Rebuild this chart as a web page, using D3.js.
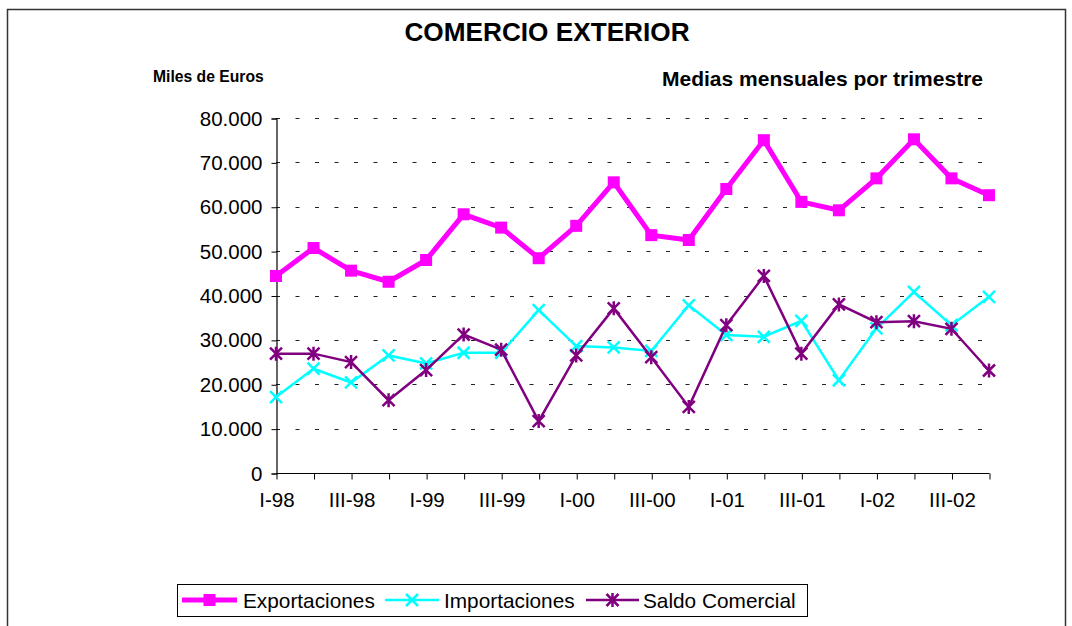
<!DOCTYPE html>
<html>
<head>
<meta charset="utf-8">
<script src="https://cdn.jsdelivr.net/npm/d3@7"></script>
<style>
  html, body { margin: 0; padding: 0; background: #fff; }
  svg { display: block; font-family: "Liberation Sans", Arial, sans-serif; }
</style>
</head>
<body>
<svg id="chart" width="1072" height="626"></svg>
<script>
const categories = ["I-98","II-98","III-98","IV-98","I-99","II-99","III-99","IV-99",
  "I-00","II-00","III-00","IV-00","I-01","II-01","III-01","IV-01",
  "I-02","II-02","III-02","IV-02"];
const exportaciones = [44400, 50700, 45600, 43100, 48000, 58300, 55300, 48400,
  55700, 65500, 53600, 52500, 64000, 75000, 61100, 59200,
  66400, 75200, 66400, 62600];
const importaciones = [17100, 23500, 20400, 26500, 24700, 27100, 27100, 36700,
  28600, 28300, 27500, 37800, 31100, 30700, 34300, 20900,
  32600, 40800, 33300, 39700];
const saldo = [26900, 26900, 25000, 16400, 23200, 31200, 27800, 11700,
  26500, 37100, 26100, 14900, 33300, 44400, 26900, 38000,
  34000, 34200, 32500, 23100];
const yTicks = [0, 10000, 20000, 30000, 40000, 50000, 60000, 70000, 80000];
const xLabels = ["I-98","III-98","I-99","III-99","I-00","III-00","I-01","III-01","I-02","III-02"];
const seriesNames = ["Exportaciones", "Importaciones", "Saldo Comercial"];

const svg = d3.select("#chart");
const locale = d3.formatLocale({decimal: ",", thousands: ".", grouping: [3], currency: ["", "€"]});
const fmt = locale.format(",.0f");

// outer frame
svg.append("rect").attr("x", 7.5).attr("y", 9.5).attr("width", 1058).attr("height", 700)
  .attr("fill", "none").attr("stroke", "#333").attr("stroke-width", 1.5);

const x = d3.scalePoint().domain(categories).range([276, 989]);
const y = d3.scaleLinear().domain([0, 80000]).range([473, 118]);

// gridlines
svg.append("g").selectAll("line").data(yTicks.filter(d => d > 0)).join("line")
  .attr("x1", 276).attr("x2", 989)
  .attr("y1", d => Math.round(y(d)) + 0.5).attr("y2", d => Math.round(y(d)) + 0.5)
  .attr("stroke", "#222").attr("stroke-width", 1.2).attr("stroke-dasharray", "4,15.5");

// y axis
const yAxis = d3.axisLeft(y).tickValues(yTicks).tickFormat(fmt).tickSize(5).tickPadding(9);
const gy = svg.append("g").attr("transform", "translate(276.5,0.5)").call(yAxis);
gy.select(".domain").attr("stroke", "#000").attr("stroke-width", 1.2);
gy.selectAll(".tick line").attr("stroke", "#000");
gy.selectAll(".tick text").attr("font-size", 20.5).attr("fill", "#000")
  .attr("font-family", "'Liberation Sans', Arial, sans-serif");

// x axis
const xAxis = d3.axisBottom(x).tickSize(6).tickPadding(13)
  .tickFormat(d => xLabels.includes(d) ? d : "");
const gx = svg.append("g").attr("transform", "translate(0.5,473.5)").call(xAxis);
gx.select(".domain").attr("stroke", "#000").attr("stroke-width", 1.2).attr("d", "M276,0H989");
gx.selectAll(".tick line").attr("stroke", "#000");
gx.selectAll(".tick text").attr("font-size", 20.5).attr("fill", "#000")
  .attr("font-family", "'Liberation Sans', Arial, sans-serif");

// series
const series = [
  {name: seriesNames[0], values: exportaciones, color: "#FF00FF", width: 5, marker: "square"},
  {name: seriesNames[1], values: importaciones, color: "#00FFFF", width: 2.5, marker: "x"},
  {name: seriesNames[2], values: saldo, color: "#800080", width: 2.5, marker: "star"}
];

function drawMarker(g, type, color, cx, cy) {
  if (type === "square") {
    g.append("rect").attr("x", cx - 6).attr("y", cy - 6).attr("width", 12).attr("height", 12)
      .attr("fill", color);
  } else if (type === "x") {
    g.append("path").attr("d", `M${cx-6},${cy-6}L${cx+6},${cy+6}M${cx-6},${cy+6}L${cx+6},${cy-6}`)
      .attr("stroke", color).attr("stroke-width", 2.5).attr("fill", "none");
  } else {
    g.append("path").attr("d", `M${cx-6},${cy-6}L${cx+6},${cy+6}M${cx-6},${cy+6}L${cx+6},${cy-6}M${cx},${cy-7}L${cx},${cy+7}`)
      .attr("stroke", color).attr("stroke-width", 2.5).attr("fill", "none");
  }
}

const line = d3.line().x((d, i) => x(categories[i])).y(d => y(d));
series.forEach(s => {
  const g = svg.append("g");
  g.append("path").datum(s.values).attr("d", line).attr("fill", "none")
    .attr("stroke", s.color).attr("stroke-width", s.width).attr("stroke-linejoin", "miter");
  s.values.forEach((v, i) => drawMarker(g, s.marker, s.color, x(categories[i]), y(v)));
});

// titles
svg.append("text").attr("x", 547).attr("y", 41).attr("text-anchor", "middle")
  .attr("font-size", 26.2).attr("font-weight", "bold").text("COMERCIO EXTERIOR");
svg.append("text").attr("x", 153).attr("y", 82)
  .attr("font-size", 15.7).attr("font-weight", "bold").text("Miles de Euros");
svg.append("text").attr("x", 983).attr("y", 86).attr("text-anchor", "end")
  .attr("font-size", 21).attr("font-weight", "bold").text("Medias mensuales por trimestre");

// legend
const lg = svg.append("g");
lg.append("rect").attr("x", 177.5).attr("y", 584.5).attr("width", 630).attr("height", 32)
  .attr("fill", "#fff").attr("stroke", "#000").attr("stroke-width", 1);
const legendPos = [{x1: 182, x2: 237, tx: 243}, {x1: 385, x2: 439, tx: 444}, {x1: 586, x2: 639, tx: 643}];
series.forEach((s, i) => {
  const p = legendPos[i];
  lg.append("line").attr("x1", p.x1).attr("x2", p.x2).attr("y1", 600).attr("y2", 600)
    .attr("stroke", s.color).attr("stroke-width", s.width);
  drawMarker(lg, s.marker, s.color, (p.x1 + p.x2) / 2, 600);
  lg.append("text").attr("x", p.tx).attr("y", 607.5).attr("font-size", 20.8).text(s.name);
});
</script>
</body>
</html>
